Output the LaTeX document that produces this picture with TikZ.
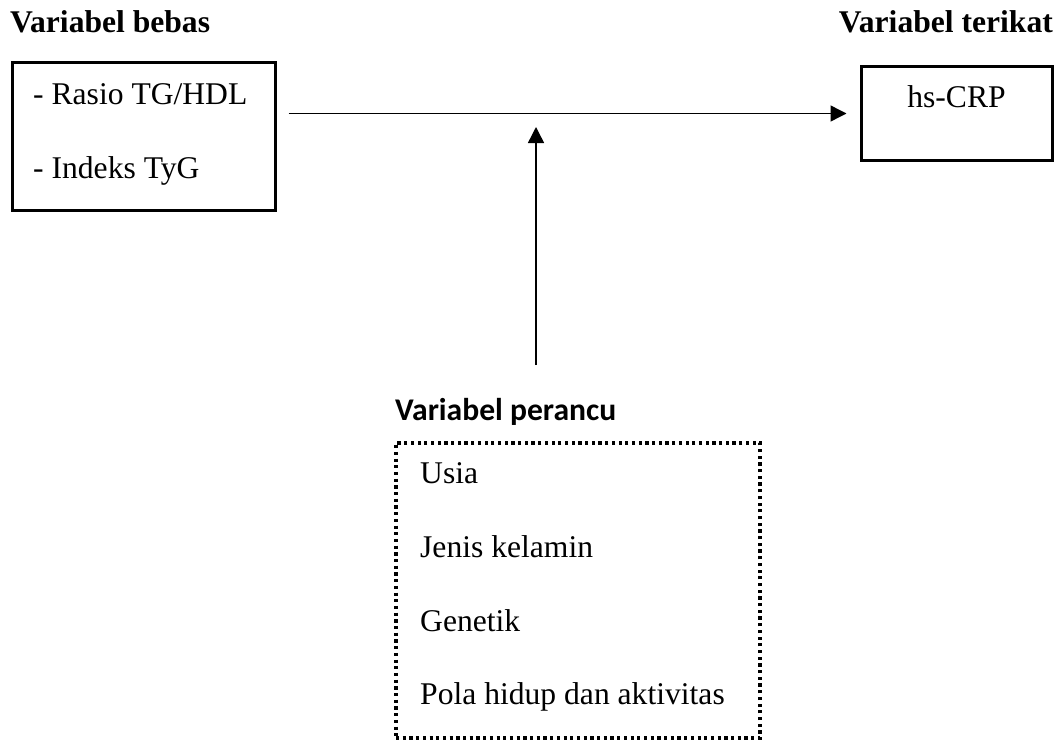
\documentclass[tikz,border=0pt]{standalone}
\usepackage{fontspec}
\setmainfont{Liberation Serif}
\newfontfamily\perancufont{Carlito}
\usetikzlibrary{arrows.meta}
\usetikzlibrary{positioning}

\begin{document}
\begin{tikzpicture}[x=1pt, y=-1pt,
		font=\fontsize{31.6}{38}\selectfont,
		kotak/.style={draw, line width=3pt, inner sep=0pt},
		kotaktitik/.style={draw, line width=3.3pt, dash pattern=on 3.2pt off 3.5pt, inner sep=0pt},
		teks/.style={anchor=base west, inner sep=0pt},
		judul/.style={inner sep=0pt, font=\fontsize{31.6}{38}\selectfont\bfseries},
		panah/.style={line width=1.4pt, -{Triangle[length=16pt, width=16pt]}}]
		\useasboundingbox (0, 0) rectangle (1062, 741);

		% kotak
		\node[kotak, minimum width=263pt, minimum height=147pt] (bebas) at (143.5, 136.5) {};
		\node[kotak, minimum width=191pt, minimum height=93pt] (terikat) at (956.5, 113.5) {};
		\node[kotaktitik, minimum width=364pt, minimum height=295pt] (perancu) at (578, 590.5) {};

		% judul
		\node[judul, anchor=base west] (jbebas) at (10, 33) {Variabel bebas};
		\node[judul, anchor=base east] (jterikat) at (1053, 33) {Variabel terikat};
		\node[judul, anchor=base west, font=\fontsize{31.6}{38}\perancufont\bfseries] (jperancu) at (395, 420) {Variabel perancu};

		% isi
		\node[teks] (rasio) at (33, 105) {- Rasio TG/HDL};
		\node[teks] (tyg) at (33, 178) {- Indeks TyG};
		\node[anchor=base, inner sep=0pt] (crp) at (956.5, 108) {hs-CRP};
		\node[teks] (usia) at (420, 483) {Usia};
		\node[teks] (jenis) at (420, 557) {Jenis kelamin};
		\node[teks] (genetik) at (420, 631) {Genetik};
		\node[teks] (pola) at (420, 704) {Pola hidup dan aktivitas};

		% panah
		\coordinate (bawah) at (536, 365);
		\coordinate (atas) at (536, 127);
		\path[draw, panah, shorten <=12pt, shorten >=13pt] (bebas.east |- terikat.west) -- (terikat.west);
		\path[draw, panah] (bawah) -- (atas);
\end{tikzpicture}
\end{document}
